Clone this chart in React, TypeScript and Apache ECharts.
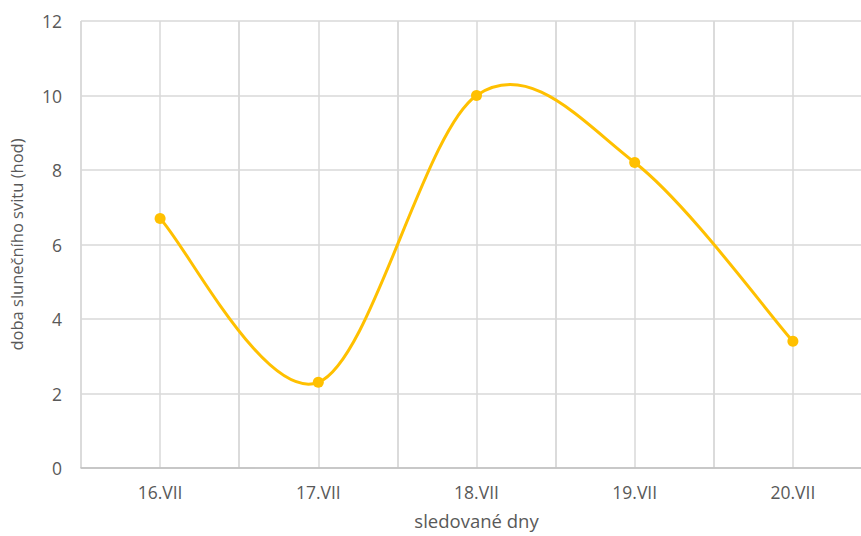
import React, { useEffect, useRef } from "react";
import * as echarts from "echarts";

const categories = ["16.VII", "17.VII", "18.VII", "19.VII", "20.VII"];
const sunshineHours = [6.7, 2.3, 10, 8.2, 3.4];
const yTicks = { min: 0, max: 12, interval: 2 };
const xAxisTitle = "sledované dny";
const yAxisTitle = "doba slunečního svitu (hod)";

export default function App() {
  const ref = useRef<HTMLDivElement>(null);
  useEffect(() => {
    if (!ref.current) return;
    const chart = echarts.init(ref.current, undefined, { renderer: "svg" });
    const font = "'Open Sans', sans-serif";
    const textColor = "#595959";
    const gridColor = "#d9d9d9";
    const lineColor = "#FFC000";
    const points = sunshineHours.map((v, i) => [i, v]);

    const renderCurve = (params: any, api: any) => {
      if (params.dataIndex !== 0) return { type: "group", children: [] };
      const p = points.map((d) => api.coord(d));
      let d = `M${p[0][0]},${p[0][1]}`;
      for (let i = 0; i < p.length - 1; i++) {
        const p0 = p[i - 1] || p[i];
        const p1 = p[i];
        const p2 = p[i + 1];
        const p3 = p[i + 2] || p[i + 1];
        const c1x = p1[0] + (p2[0] - p0[0]) / 6;
        const c1y = p1[1] + (p2[1] - p0[1]) / 6;
        const c2x = p2[0] - (p3[0] - p1[0]) / 6;
        const c2y = p2[1] - (p3[1] - p1[1]) / 6;
        d += ` C${c1x},${c1y} ${c2x},${c2y} ${p2[0]},${p2[1]}`;
      }
      return {
        type: "path",
        shape: { pathData: d },
        style: { stroke: lineColor, lineWidth: 3, fill: "none" },
      };
    };

    chart.setOption({
      animation: false,
      backgroundColor: "#ffffff",
      grid: { left: 79, top: 21, width: 793, bottom: 68, containLabel: false },
      xAxis: [
        {
          type: "category",
          data: categories,
          boundaryGap: true,
          axisLine: { show: true, lineStyle: { color: "#bfbfbf", width: 1.5 } },
          axisTick: { show: false },
          axisLabel: { color: textColor, fontFamily: font, fontSize: 17.5, margin: 15 },
          splitLine: { show: true, lineStyle: { color: gridColor, width: 1.5 } },
          name: xAxisTitle,
          nameLocation: "middle",
          nameGap: 43,
          nameTextStyle: { color: textColor, fontFamily: font, fontSize: 18.5 },
        },
        {
          type: "value",
          min: 0,
          max: categories.length * 2,
          interval: 1,
          show: true,
          position: "bottom",
          axisLine: { show: false },
          axisTick: { show: false },
          axisLabel: { show: false },
          splitLine: { show: true, lineStyle: { color: gridColor, width: 1.5 } },
        },
      ],
      yAxis: {
        type: "value",
        min: yTicks.min,
        max: yTicks.max,
        interval: yTicks.interval,
        axisLine: { show: false },
        axisTick: { show: false },
        axisLabel: { color: textColor, fontFamily: font, fontSize: 17.5, margin: 19 },
        splitLine: { show: true, lineStyle: { color: gridColor, width: 1.5 } },
        name: yAxisTitle,
        nameLocation: "middle",
        nameGap: 56,
        nameTextStyle: { color: textColor, fontFamily: font, fontSize: 16.5 },
      },
      series: [
        {
          type: "custom",
          xAxisIndex: 0,
          yAxisIndex: 0,
          data: points,
          encode: { x: 0, y: 1 },
          renderItem: renderCurve,
          z: 2,
        },
        {
          type: "line",
          xAxisIndex: 0,
          data: sunshineHours,
          symbol: "circle",
          symbolSize: 11,
          lineStyle: { width: 0, opacity: 0 },
          itemStyle: { color: lineColor },
          z: 3,
        },
      ],
    });
    return () => chart.dispose();
  }, []);
  return (
    <div style={{ position: "fixed", left: 0, top: 0, width: 861, height: 536, overflow: "hidden", background: "#fff" }}>
      <div ref={ref} style={{ width: 900, height: 536 }} />
    </div>
  );
}
